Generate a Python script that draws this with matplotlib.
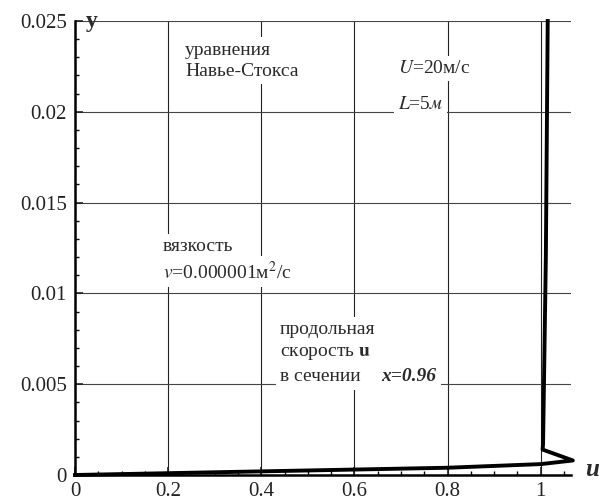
import matplotlib
matplotlib.use("Agg")
import matplotlib.pyplot as plt
from matplotlib.ticker import MultipleLocator, FixedLocator
from matplotlib.patches import Rectangle

plt.rcParams['font.family'] = ['Liberation Serif', 'DejaVu Serif']
plt.rcParams['mathtext.fontset'] = 'stix'

# profile of longitudinal velocity u(y)
u_vals = [0.0, 0.2, 0.4, 0.6, 0.8, 1.0, 1.069, 1.004, 1.005, 1.011, 1.015]
y_vals = [0.0, 0.0001, 0.0002, 0.0003, 0.0004, 0.0006, 0.0008, 0.0014, 0.0017, 0.012, 0.025]

x_ticks = [0, 0.2, 0.4, 0.6, 0.8, 1.0]
x_labels = ["0", "0.2", "0.4", "0.6", "0.8", "1"]
y_ticks = [0, 0.005, 0.01, 0.015, 0.02, 0.025]
y_labels = ["0", "0.005", "0.01", "0.015", "0.02", "0.025"]

fig = plt.figure(figsize=(6.01, 5.00), dpi=100)
ax = fig.add_axes([75/601, 25/500, 496/601, 454/500])
ax.set_xlim(0, 1.065)
ax.set_ylim(0, 0.025)

for xt in x_ticks[1:]:
    ax.axvline(xt, color='#222222', lw=0.8, zorder=1)
for yt in y_ticks[1:]:
    ax.axhline(yt, color='#444444', lw=0.8, zorder=1)

ax.plot(u_vals, y_vals, color='black', lw=2.8, zorder=4, clip_on=False)

for s in ['top', 'right']:
    ax.spines[s].set_visible(False)
for s in ['left', 'bottom']:
    ax.spines[s].set_linewidth(1.8)
    ax.spines[s].set_zorder(5)

ax.xaxis.set_major_locator(FixedLocator(x_ticks))
ax.set_xticklabels(x_labels)
ax.yaxis.set_major_locator(FixedLocator(y_ticks))
ax.set_yticklabels(y_labels)
ax.xaxis.set_minor_locator(MultipleLocator(0.05))
ax.yaxis.set_minor_locator(MultipleLocator(0.001))
ax.tick_params(which='major', direction='in', length=6, width=1.2, labelsize=15, colors='#222222')
ax.tick_params(axis='x', which='major', pad=5)
ax.tick_params(axis='y', which='major', pad=6)
ax.tick_params(which='minor', direction='in', length=3, width=1.0)

tc = '#2a2a2a'
fs = 14
box = dict(facecolor='white', edgecolor='none', pad=3)

def put(x, y, s, **kw):
    ax.text(x, y, s, fontsize=fs, color=tc, va='center', ha='left', bbox=box, zorder=3, **kw)

put(0.236, 0.0234, "уравнения")
put(0.236, 0.0222, "Навье-Стокса")
put(0.693, 0.0224, r"$U$=20м/с")
put(0.693, 0.0204, r"$L$=5$м$")
put(0.188, 0.0126, "вязкость")
put(0.188, 0.0112, r"$v$=0.000001м$^2$/с")
put(0.44, 0.0080, "продольная")
put(0.44, 0.0067, "скорость $\\mathbf{u}$")
put(0.44, 0.0054, "в сечении")
put(0.658, 0.0054, "x=0.96", fontweight='bold', fontstyle='italic')
ax.add_patch(Rectangle((0.62, 0.0049), 0.06, 0.001, facecolor='white', edgecolor='none', zorder=2))

fig.text(86/601, 1 - 21/500, "y", fontsize=17, fontweight='bold', color=tc, va='center', ha='left')
fig.text(585/601, 1 - 470/500, "u", fontsize=18, fontweight='bold', fontstyle='italic', color=tc, va='center', ha='left')

fig.savefig("out.png", dpi=100)
